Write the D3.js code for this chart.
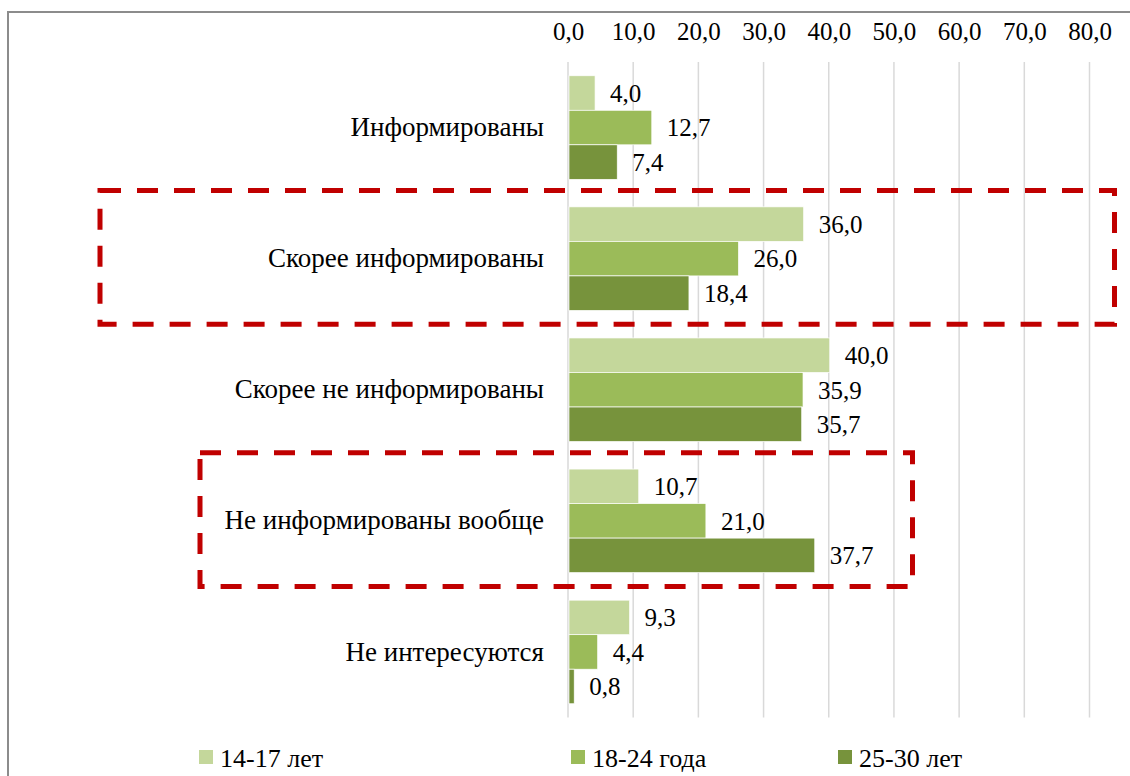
<!DOCTYPE html>
<html><head><meta charset="utf-8">
<script src="https://cdn.jsdelivr.net/npm/d3@7"></script>
<style>body{margin:0;background:#fff;} svg{display:block;} svg text{font-family:"Liberation Serif","Tinos","Times New Roman","Noto Serif","DejaVu Serif",serif;fill:#000;}</style>
</head><body>
<svg id="chart" width="1130" height="776"></svg>
<script>
const categories = ["Информированы","Скорее информированы","Скорее не информированы","Не информированы вообще","Не интересуются"];
const seriesNames = ["14-17 лет","18-24 года","25-30 лет"];
const s1417 = [4.0, 36.0, 40.0, 10.7, 9.3];
const s1824 = [12.7, 26.0, 35.9, 21.0, 4.4];
const s2530 = [7.4, 18.4, 35.7, 37.7, 0.8];
const tickValues = [0,10,20,30,40,50,60,70,80];
const colors = ["#c4d79b","#9bbb59","#77933c"];
const highlighted = ["Скорее информированы","Не информированы вообще"];

const series = [s1417, s1824, s2530];
const svg = d3.select("#chart");
const W = 1130, H = 776;
const FONT = "'Liberation Serif', 'Tinos', 'Times New Roman', 'Noto Serif', 'DejaVu Serif', serif";

// outer frame
svg.append("rect").attr("x",8).attr("y",12).attr("width",W+20).attr("height",H+20)
  .attr("fill","none").attr("stroke","#8c8c8c").attr("stroke-width",2);

const x = d3.scaleLinear().domain([0,80]).range([568,1089.5]);
const y = d3.scaleBand().domain(categories).range([62,717.5]).paddingInner(0.21).paddingOuter(0.105);
const ys = d3.scaleBand().domain(d3.range(series.length)).range([0,y.bandwidth()]).padding(0);

// gridlines
svg.append("g").selectAll("line").data(tickValues).join("line")
  .attr("x1",d=>x(d)).attr("x2",d=>x(d)).attr("y1",62).attr("y2",717.5)
  .attr("stroke","#d9d9d9").attr("stroke-width",1.5);

// top axis labels
const fmt = d => d.toFixed(1).replace(".",",");
const axis = d3.axisTop(x).tickValues(tickValues).tickFormat(fmt).tickSize(0).tickPadding(0);
const ag = svg.append("g").attr("transform","translate(0,40)").call(axis);
ag.attr("font-family",FONT).attr("font-size",25);
ag.select(".domain").remove();
ag.selectAll("text").style("font-family",FONT).attr("font-size",25).attr("fill","#000").attr("dy",0);

// category labels
const yAxis = d3.axisLeft(y).tickSize(0).tickPadding(0);
const yg = svg.append("g").attr("transform","translate(544,0)").call(yAxis);
yg.attr("font-family",FONT).attr("font-size",27);
yg.select(".domain").remove();
yg.selectAll("text").style("font-family",FONT).attr("font-size",27).attr("fill","#000");

// bars
series.forEach((vals,si)=>{
  const g = svg.append("g");
  g.selectAll("rect").data(vals).join("rect")
    .attr("x",x(0)+1).attr("y",(d,i)=>y(categories[i])+ys(si))
    .attr("width",d=>x(d)-x(0)).attr("height",ys.bandwidth())
    .attr("fill",colors[si]).attr("stroke","#fff").attr("stroke-width",0.7);
  g.selectAll("text").data(vals).join("text")
    .attr("x",d=>x(d)+16).attr("y",(d,i)=>y(categories[i])+ys(si)+ys.bandwidth()/2)
    .attr("dy","0.35em").attr("font-size",25).style("font-family",FONT).text(d=>fmt(d));
});

// red dashed highlight boxes
const boxes = [
  {cat:highlighted[0], x0:100, x1:1114.5},
  {cat:highlighted[1], x0:200, x1:912.5}
];
boxes.forEach(b=>{
  const start = y(b.cat) - (y.step()-y.bandwidth())/2;
  const top = start - 2.5, bot = start + y.step();
  svg.append("rect").attr("x",b.x0).attr("y",top).attr("width",b.x1-b.x0).attr("height",bot-top)
    .attr("fill","none").attr("stroke","#c00000").attr("stroke-width",5)
    .attr("stroke-dasharray","21,16");
});

// legend
const legendX = [199, 571, 838];
const lg = svg.append("g");
seriesNames.forEach((n,i)=>{
  lg.append("rect").attr("x",legendX[i]).attr("y",750).attr("width",14).attr("height",14).attr("fill",colors[i]);
  lg.append("text").attr("x",legendX[i]+21).attr("y",767).attr("font-size",26).style("font-family",FONT).text(n);
});
</script>
</body></html>
